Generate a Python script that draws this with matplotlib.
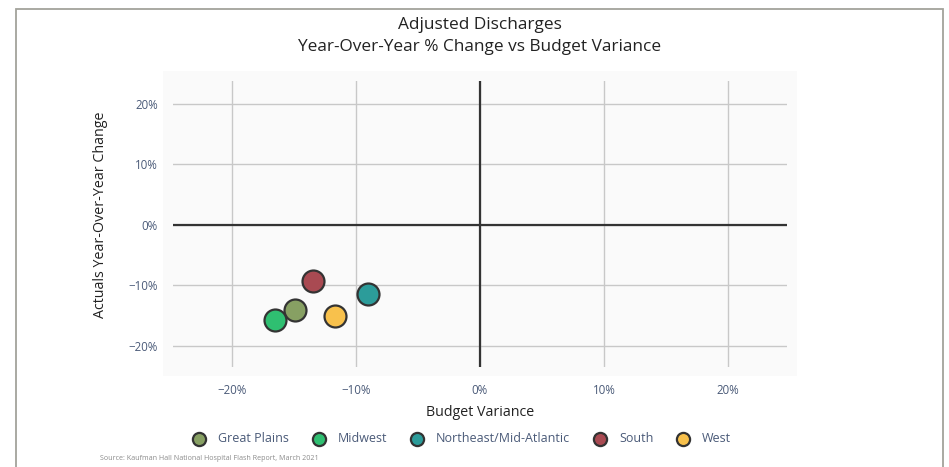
import matplotlib.pyplot as plt
from matplotlib.patches import Rectangle
from matplotlib.ticker import FuncFormatter

plt.rcParams['font.family'] = ['Open Sans', 'DejaVu Sans']

regions = ['Great Plains', 'Midwest', 'Northeast/Mid-Atlantic', 'South', 'West']
budget_var = [-14.9, -16.5, -9.0, -13.5, -11.7]
yoy_change = [-14.0, -15.7, -11.4, -9.3, -15.0]
colors = ['#87a063', '#2fbf71', '#2c9c9a', '#a94a52', '#f8c14c']

ticks = [-20, -10, 0, 10, 20]

fig = plt.figure(figsize=(9.49, 4.67), dpi=100)
W, H = 949, 467

# outer frame and plot panel background
fig.patches.append(Rectangle((16 / W, -0.05), (943 - 16) / W, (H - 9) / H + 0.05,
                             transform=fig.transFigure, fill=False,
                             edgecolor='#a3a39b', linewidth=1.3, zorder=-2))
fig.patches.append(Rectangle((163 / W, (H - 376) / H), (797 - 163) / W, (376 - 71) / H,
                             transform=fig.transFigure, facecolor='#fafafa',
                             edgecolor='none', zorder=-1))

ax = fig.add_axes([173 / W, (H - 367) / H, (787 - 173) / W, (367 - 81) / H])
ax.set_facecolor('none')

ax.set_xlim(-24.76, 24.76)
ax.set_ylim(-23.5, 23.8)
ax.set_xticks(ticks)
ax.set_yticks(ticks)
pct = FuncFormatter(lambda v, p: f'{v:.0f}%'.replace('-', '\u2212'))
ax.xaxis.set_major_formatter(pct)
ax.yaxis.set_major_formatter(pct)
ax.grid(True, color='#c8c8c8', linewidth=1)
ax.set_axisbelow(True)
for s in ax.spines.values():
    s.set_visible(False)
ax.tick_params(length=0, labelsize=8.3, labelcolor='#4a5a78')
ax.tick_params(axis='y', pad=11)
ax.tick_params(axis='x', pad=12)

ax.axhline(0, color='#333333', linewidth=1.6, zorder=2)
ax.axvline(0, color='#333333', linewidth=1.6, zorder=2)

for x, y, c, name in zip(budget_var, yoy_change, colors, regions):
    ax.scatter(x, y, s=250, color=c, edgecolor='#333333', linewidth=1.6, zorder=3, label=name)

ax.set_xlabel('Budget Variance', fontsize=10.3, color='#222222')
ax.set_ylabel('Actuals Year-Over-Year Change', fontsize=10.3, color='#222222')
ax.xaxis.set_label_coords((480 - 173) / 614, (367 - 412) / 286)
ax.xaxis.label.set_va('center')
ax.yaxis.set_label_coords((101 - 173) / 614, (367 - 215) / 286)
ax.yaxis.label.set_va('center')

fig.text(480 / W, 1 - 25 / H, 'Adjusted Discharges', ha='center', va='center',
         fontsize=12.4, color='#222222')
fig.text(480 / W, 1 - 47 / H, 'Year-Over-Year % Change vs Budget Variance', ha='center',
         va='center', fontsize=12.4, color='#222222')

handles, labels = ax.get_legend_handles_labels()
leg = fig.legend(handles, labels, loc='center', bbox_to_anchor=(459 / W, 1 - 439 / H),
                 ncol=5, frameon=False, fontsize=9.0, markerscale=0.6,
                 handletextpad=0.5, columnspacing=1.4)
for t in leg.get_texts():
    t.set_color('#4a5a78')

fig.text(100 / W, 1 - 458 / H, 'Source: Kaufman Hall National Hospital Flash Report, March 2021',
         ha='left', va='center', fontsize=5.1, color='#8a8a8a')

fig.savefig('out.png', dpi=100)
